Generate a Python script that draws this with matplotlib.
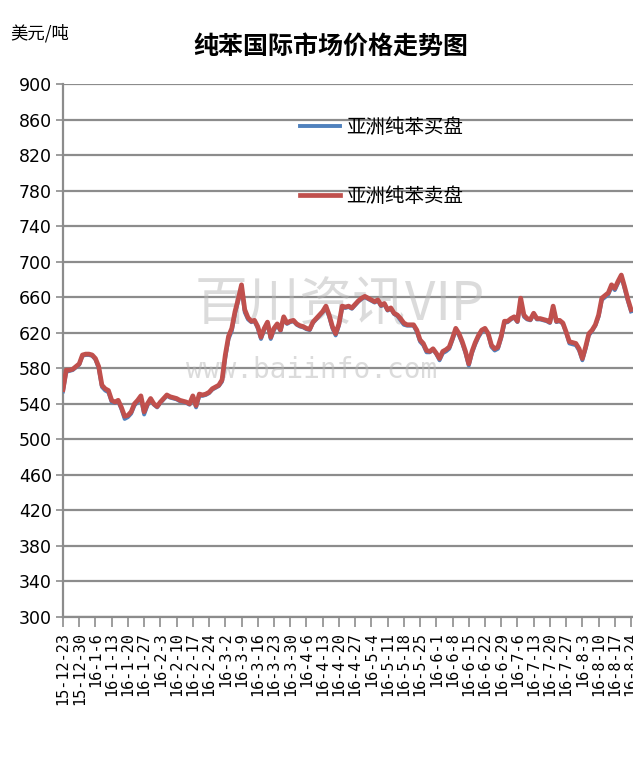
import numpy as np
import matplotlib.pyplot as plt

plt.rcParams['font.family'] = ['Noto Sans CJK SC', 'DejaVu Sans']

week_labels = ['15-12-23', '15-12-30', '16-1-6', '16-1-13', '16-1-20', '16-1-27',
               '16-2-3', '16-2-10', '16-2-17', '16-2-24', '16-3-2', '16-3-9',
               '16-3-16', '16-3-23', '16-3-30', '16-4-6', '16-4-13', '16-4-20',
               '16-4-27', '16-5-4', '16-5-11', '16-5-18', '16-5-25', '16-6-1',
               '16-6-8', '16-6-15', '16-6-22', '16-6-29', '16-7-6', '16-7-13',
               '16-7-20', '16-7-27', '16-8-3', '16-8-10', '16-8-17', '16-8-24']

# daily prices (USD/t), one value per trading day
offer = [556, 578, 578, 579, 582, 585, 595, 596, 596, 595,
         591, 582, 561, 557, 555, 544, 542, 544, 536, 526,
         527, 531, 540, 544, 549, 531, 540, 546, 540, 537,
         542, 546, 550, 548, 547, 546, 544, 543, 542, 540,
         549, 538, 551, 550, 551, 553, 557, 559, 561, 567,
         595, 616, 625, 644, 658, 674, 646, 637, 633, 634,
         627, 615, 625, 632, 615, 625, 630, 623, 638, 631,
         633, 634, 630, 628, 627, 625, 624, 632, 636, 640,
         644, 650, 640, 627, 619, 630, 650, 649, 650, 648,
         652, 656, 659, 661, 659, 657, 655, 657, 651, 653,
         646, 648, 642, 640, 636, 631, 629, 629, 629, 623,
         612, 608, 600, 599, 602, 597, 591, 599, 601, 604,
         614, 625, 619, 610, 599, 585, 599, 609, 617, 623,
         625, 619, 606, 602, 604, 616, 633, 633, 636, 638,
         633, 659, 640, 636, 635, 642, 636, 636, 635, 634,
         632, 650, 633, 634, 631, 621, 610, 609, 608, 602,
         591, 604, 619, 623, 629, 640, 659, 662, 665, 674,
         670, 678, 685, 672, 658, 646]

bid = [554, 576, 577, 578, 581, 584, 594, 595, 595, 594,
       590, 580, 559, 555, 553, 542, 541, 543, 534, 523,
       525, 529, 538, 542, 547, 528, 538, 545, 539, 536,
       541, 545, 549, 547, 546, 545, 543, 542, 541, 539,
       547, 536, 549, 549, 550, 552, 556, 558, 560, 565,
       592, 613, 622, 642, 656, 671, 643, 635, 632, 633,
       625, 613, 623, 631, 613, 623, 629, 622, 636, 630,
       632, 633, 629, 627, 626, 624, 623, 631, 635, 639,
       643, 648, 638, 625, 617, 628, 648, 648, 649, 647,
       651, 655, 658, 660, 658, 656, 654, 656, 650, 652,
       645, 647, 641, 639, 634, 629, 628, 628, 628, 621,
       610, 606, 598, 598, 601, 596, 589, 597, 599, 602,
       612, 623, 617, 608, 597, 583, 597, 607, 615, 621,
       624, 618, 604, 600, 602, 614, 631, 632, 635, 637,
       632, 656, 638, 635, 634, 641, 635, 635, 634, 633,
       631, 648, 632, 633, 630, 620, 608, 607, 606, 600,
       589, 602, 617, 622, 628, 638, 657, 660, 663, 672,
       668, 676, 683, 670, 656, 644]

fig = plt.figure(figsize=(6.33, 7.71), dpi=100)
ax = fig.add_axes([0.0995, 0.1997, 0.9005, 0.6913])

x = np.arange(len(offer))
ax.plot(x, bid, color='#4F81BD', lw=2.8, label='亚洲纯苯买盘', zorder=3)
ax.plot(x, offer, color='#C0504D', lw=3.4, label='亚洲纯苯卖盘', zorder=4)

ax.set_ylim(300, 900)
ax.set_yticks(range(300, 901, 40))
ax.set_xlim(0, 175.6)
ax.set_xticks(np.arange(0, len(offer), 5))
ax.set_xticklabels(week_labels, rotation=90, family='DejaVu Sans Mono', fontsize=11)
for lab in ax.get_yticklabels():
    lab.set_fontsize(12.5)
    lab.set_family('DejaVu Sans')

ax.grid(axis='y', color='#8c8c8c', lw=1.6)
ax.tick_params(axis='y', length=5, color='#8c8c8c', width=1.2, pad=3)
ax.tick_params(axis='x', length=7, color='#8c8c8c', width=1.2, pad=4)
for side in ['top', 'right']:
    ax.spines[side].set_visible(False)
for side in ['left', 'bottom']:
    ax.spines[side].set_color('#8c8c8c')
    ax.spines[side].set_linewidth(1.6)

# watermark
ax.text(340 / 633, 1 - 305 / 771, '百川资讯VIP', transform=fig.transFigure,
        ha='center', va='center', fontsize=38, color='#b8b8b8', alpha=0.5, zorder=1.8)
ax.text(312 / 633, 1 - 370 / 771, 'www.baiinfo.com', transform=fig.transFigure,
        ha='center', va='center', fontsize=20, family='DejaVu Sans Mono',
        color='#b8b8b8', alpha=0.5, zorder=1.8)

fig.text(0.523, 0.940, '纯苯国际市场价格走势图', ha='center', va='center',
         fontsize=18, fontweight='bold')
fig.text(0.016, 0.957, '美元/吨', ha='left', va='center', fontsize=12.5)

fig.legend(loc='upper left', bbox_to_anchor=(0.474, 0.848), frameon=False,
           fontsize=14, labelspacing=2.45, handlelength=2.05, handletextpad=0.3,
           borderpad=0, borderaxespad=0)

fig.savefig('out.png', dpi=100)
